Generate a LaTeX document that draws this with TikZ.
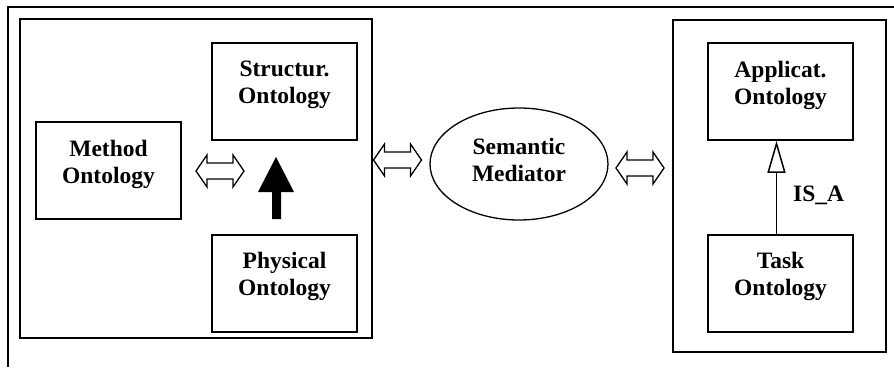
\documentclass[tikz,border=0pt]{standalone}
\usepackage{fontspec}
\setmainfont{Liberation Serif}
\usetikzlibrary{positioning,arrows.meta,shapes.geometric}
\begin{document}
\begin{tikzpicture}[x=1pt,y=-1pt,
	box/.style={draw,line width=1.7pt,minimum width=145pt,minimum height=97pt,inner sep=0pt},
	frame/.style={draw,line width=1.7pt,inner sep=0pt},
	lbl/.style={align=center,inner sep=0pt,font=\fontsize{23.5}{27}\selectfont\bfseries},
	dblarr/.pic={\draw[line width=1.3pt,fill=white] (-24,0) -- (-13,-16) -- (-13,-8) -- (13,-8) -- (13,-16) -- (24,0) -- (13,16) -- (13,8) -- (-13,8) -- (-13,16) -- cycle;}]
	\useasboundingbox (0,0) rectangle (894,367);
	\draw[line width=1.7pt] (894,7) -- (8,7) -- (8,367);
	% left group
	\node[frame,minimum width=352pt,minimum height=319pt] (leftgrp) at (196,178.5) {};
	\node[box] (method) at (108.5,170.5) {};
	\node[box] (struct) at (284.5,91.5) {};
	\node[box] (phys) at (284.5,283.5) {};
	\node[lbl,below=19pt of method.north] (methodtxt) {Method\\Ontology};
	\node[lbl,below=19pt of struct.north] (structtxt) {Structur.\\Ontology};
	\node[lbl,below=18pt of phys.north] (phystxt) {Physical\\Ontology};
	\fill (272,219) -- (272,192) -- (258,192) -- (276,157) -- (294,192) -- (281,192) -- (281,219) -- cycle;
	% mediator
	\node[draw,ellipse,line width=1.3pt,minimum width=178pt,minimum height=112pt] (mediator) at (519,164) {};
	\node[lbl,below=31pt of mediator.north] (mediatortxt) {Semantic\\Mediator};
	% right group
	\node[frame,minimum width=213pt,minimum height=332pt] (rightgrp) at (779.5,186) {};
	\node[box] (applic) at (780.5,91.5) {};
	\node[box] (task) at (780.5,283.5) {};
	\node[lbl,below=19pt of applic.north] (applictxt) {Applicat.\\Ontology};
	\node[lbl,below=18pt of task.north] (tasktxt) {Task\\Ontology};
	\draw[line width=1.5pt,-{Triangle[open,width=18pt 0,length=32pt 0]}] ([xshift=-4pt]task.north) -- ([xshift=-4pt]applic.south);
	\node[lbl,anchor=base west] (isa) at (793,201) {IS\_A};
	\pic at (220,171) {dblarr};
	\pic at (397.5,160) {dblarr};
	\pic at (640,168) {dblarr};
\end{tikzpicture}
\end{document}
